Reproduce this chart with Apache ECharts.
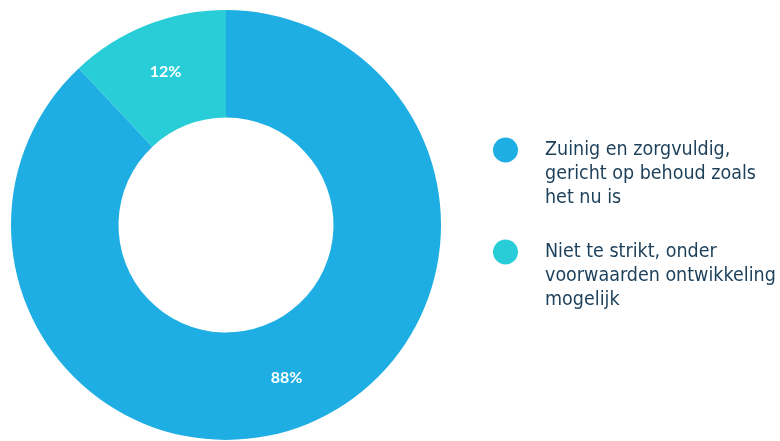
<!DOCTYPE html>
<html>
<head>
<meta charset="utf-8">
<script src="https://cdn.jsdelivr.net/npm/echarts@6/dist/echarts.min.js"></script>
<style>html,body{margin:0;padding:0;background:#fff}#c{width:780px;height:441px}</style>
</head>
<body>
<div id="c"></div>
<script>
var categories = ['Zuinig en zorgvuldig,\ngericht op behoud zoals\nhet nu is', 'Niet te strikt, onder\nvoorwaarden ontwikkeling\nmogelijk'];
var values = [88, 12];
var colors = ['#1FAEE3', '#29CDD8'];

var chart = echarts.init(document.getElementById('c'), null, {renderer: 'canvas'});
chart.setOption({
  animation: false,
  color: colors,
  legend: {
    orient: 'vertical',
    left: 488,
    top: 85,
    itemWidth: 25,
    itemHeight: 25,
    itemGap: -18,
    icon: 'circle',
    selectedMode: false,
    formatter: function (name) { return '\n\n' + name; },
    textStyle: {
      fontFamily: '"Liberation Sans Narrow", "Arial Narrow", "DejaVu Sans Condensed", sans-serif',
      fontSize: 19.5,
      lineHeight: 24,
      color: '#1C3F5A',
      padding: [0, 0, 0, 22]
    },
    data: categories
  },
  series: [{
    type: 'pie',
    center: [226, 225],
    radius: [107.5, 215],
    startAngle: 90,
    clockwise: true,
    avoidLabelOverlap: false,
    label: {
      show: true,
      position: 'inside',
      formatter: '{c}%',
      color: '#fff',
      fontFamily: 'Lato',
      fontSize: 16,
      fontWeight: 'bold'
    },
    labelLine: {show: false},
    emphasis: {disabled: true},
    itemStyle: {borderWidth: 0},
    data: categories.map(function (n, i) { return {name: n, value: values[i]}; })
  }]
});
</script>
</body>
</html>
